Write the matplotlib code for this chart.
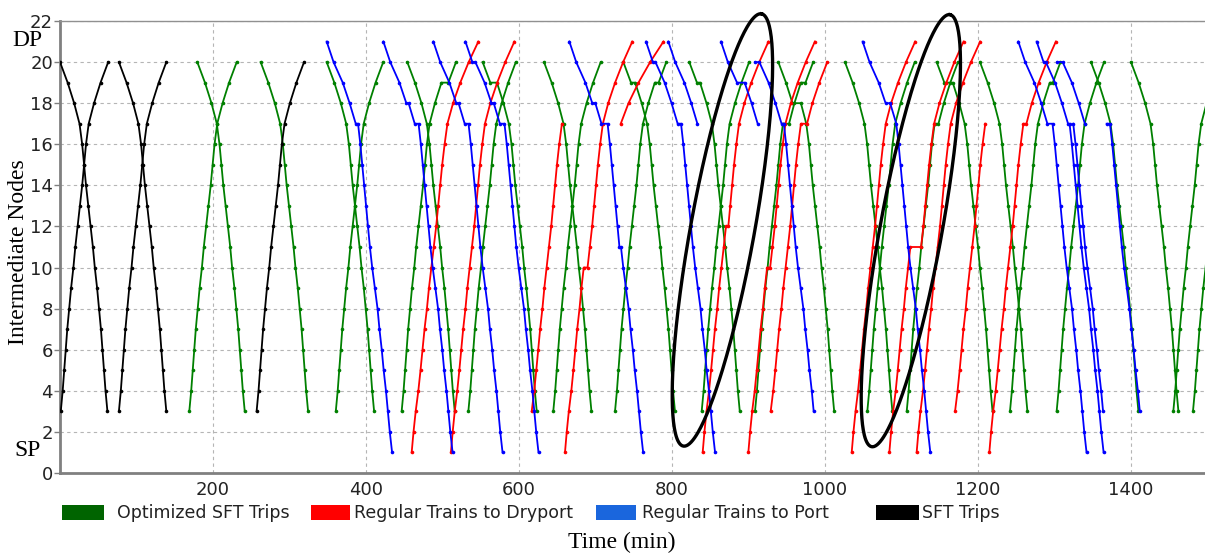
import matplotlib
matplotlib.use("Agg")
import matplotlib.pyplot as plt
import numpy as np
from matplotlib.patches import Rectangle

# ---------------- data ----------------
# SFT running profile: minutes after leaving node 3 when travelling up to node 20
sft_nodes = list(range(3, 21))
sft_offsets = [0, 2.5, 4.5, 6.5, 8.5, 11, 13.5, 16.5, 19, 22, 25, 28, 30.5, 33, 36.5, 43.5, 52, 62]

# Regular train to port: minutes after node 21 (travelling down to node 1)
blue_nodes = list(range(21, 0, -1))
blue_offsets = [0, 9, 21, 30, 38, 41, 43.5, 46, 48.5, 51, 53.5, 56.5, 60, 63.5, 66, 69, 71.5,
                74.5, 77, 79.5, 82.5]

# Regular train to dryport: minutes after node 1 (travelling up to node 21)
red_nodes = list(range(1, 22))
red_offsets = [0, 2.3, 5, 8.3, 11, 13.5, 16, 19, 21.5, 24.5, 27.5, 30.5, 33, 35.5, 38, 41, 44.5,
               51.5, 60.5, 71, 83]

# SFT trips (black)
black_dir = ["down", "up", "down", "up", "up"]
black_start = [0, 1, 77, 77, 257]

# Optimized SFT trips (green)
green_dir = ["up", "down", "down", "down", "up", "up", "down", "up", "down", "down", "up", "up",
             "down", "down", "up", "up", "down", "down", "up", "up", "down", "down", "up", "up",
             "down", "down", "up", "up"]
green_start = [169, 179.5, 262.3, 348.6, 360.5, 446.6, 454, 533.8, 552.5, 632.7, 644.8, 725.5,
               736.4, 822.6, 838.8, 908.5, 939, 1026.1, 1055.3, 1106.8, 1146, 1202.6, 1241.8,
               1302.8, 1347.7, 1400, 1455.3, 1481]
green_dwell = [{}, {}, {}, {}, {}, {19: 9}, {}, {}, {19: 8.7}, {}, {}, {19: 5},
               {19: 5.5}, {19: 4}, {}, {17: 8, 19: 6}, {18: 11}, {}, {}, {17: 5}, {19: 11}, {},
               {19: 4}, {}, {}, {}, {}, {}]

# Regular trains to dryport (red)
red_first = [1, 1, 3, 1, 17, 1, 1, 3, 1, 1, 1, 3, 1]
red_last = [21, 21, 17, 21, 21, 21, 21, 20, 21, 21, 21, 17, 21]
red_start = [459.7, 511, 616.6, 660.1, 733, 840.1, 899.8, 929, 1034.9, 1084.1, 1119.8, 1170,
             1214.8]
red_pace = [1.05, 1, 1, 1, 1.45, 1, 1, 1, 1, 1, 1, 1, 1]
red_dwell = [{}, {}, {}, {10: 5}, {}, {12: 3}, {10: 4}, {17: 8}, {}, {11: 14}, {}, {}, {17: 4}]

# Regular trains to port (blue)
blue_first = [21, 21, 21, 21, 21, 21, 21, 21, 20, 21, 21, 21, 20, 17, 17]
blue_last = [1, 1, 1, 1, 1, 1, 17, 17, 3, 1, 1, 1, 17, 3, 3]
blue_start = [348.6, 422.7, 488, 530, 665.8, 766, 795.2, 864, 908.5, 1049.2, 1252.7, 1276.7,
              1303.7, 1324.5, 1368.2]
blue_dwell = [{17: 3}, {18: 3, 17: 5}, {18: 3, 17: 5}, {20: 4, 18: 3, 17: 6},
              {18: 4, 17: 8, 11: 2}, {20: 3.4, 17: 4.4}, {}, {19: 10}, {20: 5.7, 17: 3}, {18: 6},
              {17: 6.7}, {20: 3, 17: 2}, {20: 7}, {}, {17: 4.3}]

# highlighted ellipses: top tip and bottom tip (time, node), half minor axis in pixels
ell_top = [(917, 22.35), (1163.4, 22.31)]
ell_bottom = [(814.8, 1.31), (1061, 1.28)]
ell_minor_px = [32, 31]

legend_labels = ["Optimized SFT Trips", "Regular Trains to Dryport", "Regular Trains to Port",
                 "SFT Trips"]
legend_colors = ["#006400", "#ff0000", "#1a66dd", "#000000"]

# ---------------- helpers ----------------
def build(profile, first, last, start, dwell, pace=1.0):
    step = 1 if last > first else -1
    t0 = profile[first]
    xs, ys, extra = [], [], 0.0
    for n in range(first, last + step, step):
        t = start + pace * abs(profile[n] - t0) + extra
        xs.append(t)
        ys.append(n)
        if n in dwell:
            extra += dwell[n]
            xs.append(t + dwell[n])
            ys.append(n)
    return xs, ys

sft_prof = dict(zip(sft_nodes, sft_offsets))
blue_prof = dict(zip(blue_nodes, blue_offsets))
red_prof = dict(zip(red_nodes, red_offsets))

W, H = 1205, 559
fig = plt.figure(figsize=(W / 100, H / 100), dpi=100)
ax = fig.add_axes([60 / W, 1 - 473 / H, 1145 / W, 452 / H])
ax.set_xlim(0, 1145 / 0.765)
ax.set_ylim(0, 22)

lw, ms = 1.3, 2.6
for d, s, dw in zip(green_dir, green_start, green_dwell):
    f, l = (3, 20) if d == "up" else (20, 3)
    xs, ys = build(sft_prof, f, l, s, dw)
    ax.plot(xs, ys, color="#008000", lw=lw, marker="o", ms=ms, mew=0, zorder=3)
for f, l, s, dw, p in zip(red_first, red_last, red_start, red_dwell, red_pace):
    xs, ys = build(red_prof, f, l, s, dw, p)
    ax.plot(xs, ys, color="#ff0000", lw=lw, marker="o", ms=ms, mew=0, zorder=4)
for f, l, s, dw in zip(blue_first, blue_last, blue_start, blue_dwell):
    xs, ys = build(blue_prof, f, l, s, dw)
    ax.plot(xs, ys, color="#0000ff", lw=lw, marker="o", ms=ms, mew=0, zorder=5)
for d, s in zip(black_dir, black_start):
    f, l = (3, 20) if d == "up" else (20, 3)
    xs, ys = build(sft_prof, f, l, s, {})
    ax.plot(xs, ys, color="#000000", lw=lw, marker="o", ms=ms, mew=0, zorder=5)

# axes styling
ax.set_xticks(range(200, 1401, 200))
ax.set_yticks(range(0, 23, 2))
ax.tick_params(axis="x", length=0, pad=6, labelsize=13, labelcolor="#222222")
ax.tick_params(axis="y", length=4, width=1, color="#808080", pad=1, labelsize=13,
               labelcolor="#222222")
for lab in ax.get_xticklabels() + ax.get_yticklabels():
    lab.set_family("DejaVu Sans")
ax.grid(True, ls=(0, (3, 3)), color="#b5b5b5", lw=0.8)
ax.set_axisbelow(True)
ax.spines["left"].set_color("#808080")
ax.spines["left"].set_linewidth(2)
ax.spines["bottom"].set_color("#808080")
ax.spines["bottom"].set_linewidth(2)
ax.spines["top"].set_color("#909090")
ax.spines["top"].set_linewidth(1)
ax.spines["right"].set_visible(False)

# ellipses (drawn in pixel space so their shape follows the picture)
fig.canvas.draw()
tr = ax.transData
inv = tr.inverted()
theta = np.linspace(0, 2 * np.pi, 300)
for top, bot, b in zip(ell_top, ell_bottom, ell_minor_px):
    p1 = tr.transform(top)
    p2 = tr.transform(bot)
    c = (p1 + p2) / 2
    a = np.linalg.norm(p1 - p2) / 2
    u = (p1 - p2) / (2 * a)
    v = np.array([-u[1], u[0]])
    pts = c[None, :] + np.outer(a * np.cos(theta), u) + np.outer(b * np.sin(theta), v)
    dpts = inv.transform(pts)
    ax.plot(dpts[:, 0], dpts[:, 1], color="black", lw=2.4, clip_on=False, zorder=10)

# labels
serif = ["Liberation Serif", "DejaVu Serif"]
fig.text(18.5 / W, 1 - 252 / H, "Intermediate Nodes", rotation=90, ha="center", va="center",
         family=serif, fontsize=17)
fig.text(622 / W, 1 - 542 / H, "Time (min)", ha="center", va="center", family=serif,
         fontsize=17)
fig.text(12 / W, 1 - 41 / H, "DP", ha="left", va="center", family=serif, fontsize=17)
fig.text(14 / W, 1 - 450 / H, "SP", ha="left", va="center", family=serif, fontsize=17)

# legend (manual, below the plot)
patch_x = [61.5, 311, 595.7, 876]
patch_w = [42.3, 39, 40.7, 42.5]
text_x = [116.8, 353.6, 641.8, 922]
for px, pw, tx, lab, col in zip(patch_x, patch_w, text_x, legend_labels, legend_colors):
    fig.add_artist(Rectangle((px / W, 1 - 520 / H), pw / W, 15 / H, transform=fig.transFigure,
                             facecolor=col, edgecolor="none"))
    fig.text(tx / W, 1 - 512.5 / H, lab, ha="left", va="center", family="DejaVu Sans",
             fontsize=12.5, color="#222222")

fig.savefig("out.png", dpi=100)
